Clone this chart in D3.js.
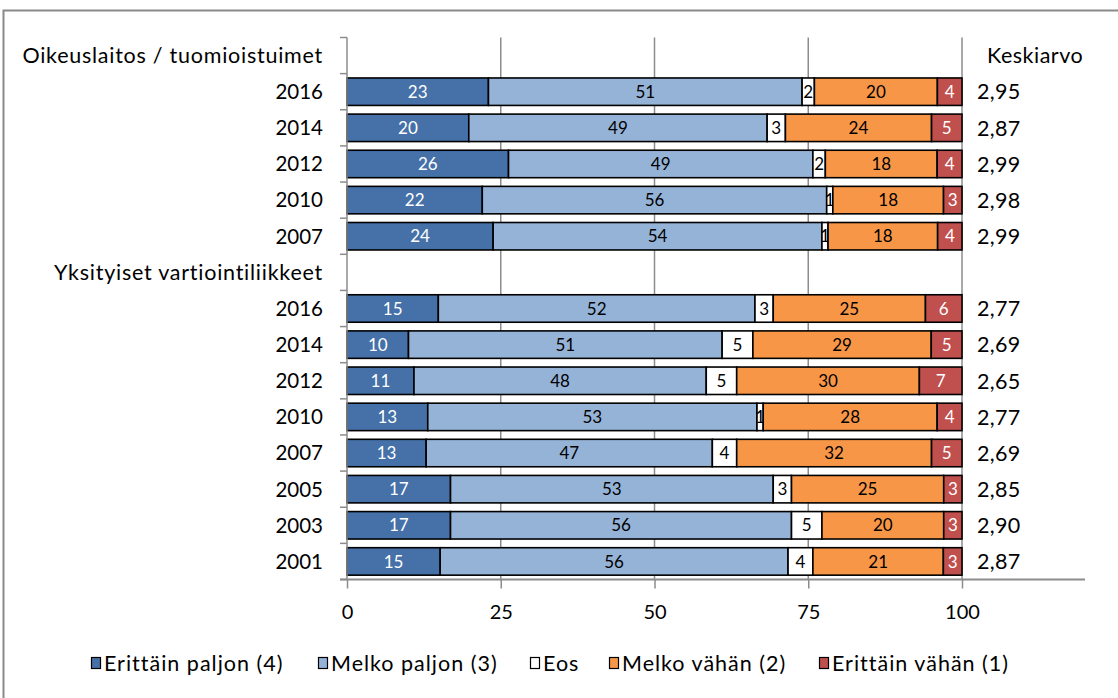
<!DOCTYPE html>
<html><head><meta charset="utf-8">
<script src="https://cdn.jsdelivr.net/npm/d3@7"></script>
<style>
html,body{margin:0;padding:0;background:#fff;}
svg{display:block;font-family:Lato, sans-serif;}
</style></head>
<body>
<svg id="chart" width="1118" height="698"></svg>
<script>
// ---- data ----
const seriesNames = ["Erittäin paljon (4)", "Melko paljon (3)", "Eos", "Melko vähän (2)", "Erittäin vähän (1)"];
const seriesColors = ["#4571A8", "#95B3D7", "#FFFFFF", "#F79646", "#C0504D"];
const labelColors = ["#FFFFFF", "#000000", "#000000", "#000000", "#FFFFFF"];
const groupNames = ["Oikeuslaitos / tuomioistuimet", "Yksityiset vartiointiliikkeet"];
const meanTitle = "Keskiarvo";

const courtYears = ["2016", "2014", "2012", "2010", "2007"];
const courtValues = [
  [23, 51, 2, 20, 4],
  [20, 49, 3, 24, 5],
  [26, 49, 2, 18, 4],
  [22, 56, 1, 18, 3],
  [24, 54, 1, 18, 4]
];
const courtMeans = [2.95, 2.87, 2.99, 2.98, 2.99];

const guardYears = ["2016", "2014", "2012", "2010", "2007", "2005", "2003", "2001"];
const guardValues = [
  [15, 52, 3, 25, 6],
  [10, 51, 5, 29, 5],
  [11, 48, 5, 30, 7],
  [13, 53, 1, 28, 4],
  [13, 47, 4, 32, 5],
  [17, 53, 3, 25, 3],
  [17, 56, 5, 20, 3],
  [15, 56, 4, 21, 3]
];
const guardMeans = [2.77, 2.69, 2.65, 2.77, 2.69, 2.85, 2.90, 2.87];

const xTicks = [0, 25, 50, 75, 100];

// ---- build rows ----
const rows = [];
rows.push({id: "h0", label: groupNames[0], header: true});
courtYears.forEach((yr, i) => rows.push({id: "c" + yr, label: yr, values: courtValues[i], mean: courtMeans[i]}));
rows.push({id: "h1", label: groupNames[1], header: true});
guardYears.forEach((yr, i) => rows.push({id: "g" + yr, label: yr, values: guardValues[i], mean: guardMeans[i]}));

const svg = d3.select("#chart");
const FS = 21.5;
const LS = 0.5;
const FONT = "Lato, sans-serif";

// frame
svg.append("rect").attr("x", 3.5).attr("y", 10.5).attr("width", 1130).attr("height", 720)
  .attr("fill", "none").attr("stroke", "#8a8a8a").attr("stroke-width", 2);

const x = d3.scaleLinear().domain([0, 100]).range([347, 962]);
const plotTop = 37.5, plotBottom = 579.5;
const y = d3.scaleBand().domain(rows.map(r => r.id)).range([plotTop, plotBottom]).paddingInner(0.24).paddingOuter(0.12);
const yStep = (plotBottom - plotTop) / rows.length;

// gridlines
const grid = svg.append("g");
grid.selectAll("line").data(xTicks.slice(1)).join("line")
  .attr("x1", d => x(d)).attr("x2", d => x(d))
  .attr("y1", plotTop).attr("y2", plotBottom)
  .attr("stroke", "#8c8c8c").attr("stroke-width", 1.5);

// stacked bars
const dataRows = rows.filter(r => !r.header);
const stack = d3.stack().keys(d3.range(seriesNames.length))
  .value((r, k) => r.values[k]).offset(d3.stackOffsetExpand);
const stacked = stack(dataRows);

const layers = svg.append("g").selectAll("g").data(stacked).join("g");
layers.selectAll("rect").data(d => d.map(s => ({s, k: d.key}))).join("rect")
  .attr("x", d => x(d.s[0] * 100))
  .attr("width", d => x(d.s[1] * 100) - x(d.s[0] * 100))
  .attr("y", d => y(d.s.data.id))
  .attr("height", y.bandwidth())
  .attr("fill", d => seriesColors[d.k])
  .attr("stroke", "#000").attr("stroke-width", 1.6);

layers.selectAll("text").data(d => d.map(s => ({s, k: d.key}))).join("text")
  .attr("x", d => x((d.s[0] + d.s[1]) / 2 * 100))
  .attr("y", d => y(d.s.data.id) + y.bandwidth() / 2)
  .attr("dy", "0.36em")
  .attr("text-anchor", "middle")
  .attr("font-size", 17)
  .attr("fill", d => labelColors[d.k])
  .text(d => d.s.data.values[d.k]);

// y axis
const yAxisG = svg.append("g");
yAxisG.append("line").attr("x1", 347).attr("x2", 347).attr("y1", plotTop).attr("y2", plotBottom)
  .attr("stroke", "#8c8c8c").attr("stroke-width", 1.5);
yAxisG.selectAll("line.tick").data(d3.range(rows.length + 1)).join("line").attr("class", "tick")
  .attr("x1", 340).attr("x2", 347)
  .attr("y1", i => plotTop + i * yStep).attr("y2", i => plotTop + i * yStep)
  .attr("stroke", "#8c8c8c").attr("stroke-width", 1.5);

// category labels
svg.append("g").selectAll("text").data(rows).join("text")
  .attr("x", 323)
  .attr("y", d => y(d.id) + y.bandwidth() / 2)
  .attr("dy", "0.36em")
  .attr("text-anchor", "end")
  .attr("font-size", d => d.header ? FS : 20.5)
  .attr("letter-spacing", d => d.header ? 0.75 : 0)
  .attr("fill", "#000")
  .text(d => d.label);

// means
svg.append("text").attr("x", 987).attr("y", y("h0") + y.bandwidth() / 2).attr("dy", "0.36em")
  .attr("font-size", FS).attr("letter-spacing", LS).text(meanTitle);
svg.append("g").selectAll("text").data(dataRows).join("text")
  .attr("x", 977)
  .attr("y", d => y(d.id) + y.bandwidth() / 2)
  .attr("dy", "0.36em")
  .attr("font-size", 21.5)
  .attr("letter-spacing", 0.3)
  .text(d => d3.format(".2f")(d.mean).replace(".", ","));

// x axis
const xAxis = d3.axisBottom(x).tickValues(xTicks).tickSize(9).tickPadding(16).tickFormat(d3.format("d"));
const xg = svg.append("g").attr("transform", `translate(0,${plotBottom})`).call(xAxis);
xg.select(".domain").remove();
xg.selectAll(".tick line").attr("stroke", "#8c8c8c").attr("stroke-width", 1.5);
xg.selectAll(".tick text").attr("font-size", 20).attr("font-family", FONT).attr("fill", "#000");
svg.append("line").attr("x1", 340).attr("x2", 1085).attr("y1", plotBottom).attr("y2", plotBottom)
  .attr("stroke", "#8c8c8c").attr("stroke-width", 1.8);

// legend
const legendX = [91, 318, 530, 609, 819];
const lg = svg.append("g").selectAll("g").data(seriesNames).join("g")
  .attr("transform", (d, i) => `translate(${legendX[i]},663)`);
lg.append("rect").attr("x", 0.5).attr("y", -5.5).attr("width", 9).attr("height", 11)
  .attr("fill", (d, i) => seriesColors[i]).attr("stroke", "#000").attr("stroke-width", 1.2);
lg.append("text").attr("x", 13).attr("dy", "0.36em").attr("font-size", FS).attr("letter-spacing", 1.0).text(d => d);
</script>
</body></html>
